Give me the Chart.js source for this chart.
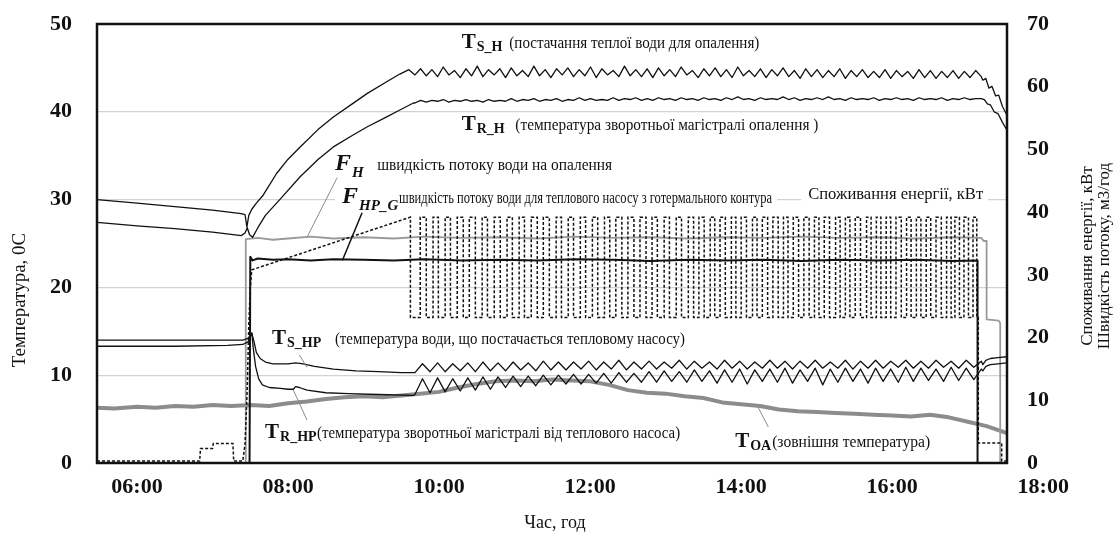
<!DOCTYPE html>
<html>
<head>
<meta charset="utf-8">
<script src="https://cdn.jsdelivr.net/npm/chart.js@4"></script>
<style>
  html, body { margin: 0; padding: 0; background: #fff; }
</style>
</head>
<body>
<canvas id="chart" width="1116" height="536"></canvas>
<script>
// time axis in hours of the day
const hourTicks = [6, 8, 10, 12, 14, 16, 18];
const timeMin = 5.47, timeMax = 17.52;

// jagged parts are logged at a fixed interval
const jagStart = 9.68, jagStep = 0.075;   // T_S_H, T_R_H
const hpStart = 9.68, hpStep = 0.1;       // T_S_HP, T_R_HP

// T_S_H - supply water for heating, °C
const tshHead = [[5.47,30.0],[6.0,29.6],[6.5,29.2],[7.0,28.8],[7.38,28.4],[7.43,28.3],[7.455,26.9],[7.48,28.2],[7.52,28.9],[7.58,29.6],[7.67,30.5],[7.85,33.0],[8.0,34.6],[8.16,36.0],[8.4,38.0],[8.6,39.4],[8.85,40.9],[9.05,42.1],[9.3,43.4],[9.48,44.3],[9.6,44.8]];
const tshJag = [44.2,
  44.9,44.1,44.8,44.0,45.1,44.2,44.7,43.9,44.9,44.1,45.2,44.0,44.8,44.2,44.9,43.9,45.0,44.1,44.7,44.0,
  45.2,44.1,44.8,43.9,44.9,44.2,45.0,44.0,44.8,44.1,45.1,43.9,44.9,44.2,44.7,44.0,45.2,44.1,44.8,44.0,
  44.9,43.9,45.0,44.1,44.8,44.0,45.1,44.2,44.7,43.9,44.9,44.1,45.0,44.0,44.8,43.9,45.1,44.1,44.7,44.0,
  44.9,43.9,44.8,44.1,45.0,44.0,44.7,43.8,44.9,44.0,44.8,43.9,44.7,44.0,44.9,43.8,44.7,44.0,44.8,43.9,
  44.6,43.9,44.8,43.8,44.7,44.0,44.6,43.8,44.8,43.9,44.7,43.8,44.6,43.9,44.7,43.8,44.6,43.9,44.7,44.0];
const tshTail = [[17.20,43.6],[17.24,43.8],[17.28,42.7],[17.32,42.9],[17.37,41.8],[17.41,41.9],[17.46,40.6],[17.52,39.6]];

// T_R_H - heating return, °C
const trhHead = [[5.47,27.4],[6.0,27.0],[6.5,26.7],[7.0,26.3],[7.38,25.9],[7.43,26.2],[7.46,26.8],[7.49,26.0],[7.53,25.7],[7.6,26.8],[7.7,28.2],[7.89,30.0],[8.16,32.6],[8.4,34.6],[8.6,36.0],[8.85,37.3],[9.05,38.3],[9.3,39.4],[9.48,40.2],[9.66,41.0]];
const trhJag = [41.0,41.3,41.1,41.3,41.2,41.4,41.1,41.3,41.2,41.4,41.2,
  41.3,41.1,41.4,41.2,41.3,41.2,41.5,41.2,41.4,41.3,
  41.5,41.2,41.4,41.3,41.5,41.2,41.4,41.3,41.6,41.3,
  41.5,41.3,41.4,41.3,41.6,41.3,41.5,41.4,41.6,41.3,
  41.5,41.3,41.6,41.4,41.5,41.3,41.6,41.4,41.5,41.3,
  41.6,41.4,41.5,41.3,41.6,41.4,41.7,41.4,41.5,41.3,
  41.6,41.4,41.5,41.4,41.7,41.4,41.6,41.3,41.5,41.4,
  41.6,41.4,41.7,41.4,41.5,41.3,41.6,41.4,41.5,41.4,
  41.6,41.3,41.5,41.4,41.6,41.4,41.5,41.3,41.6,41.4,
  41.5,41.4,41.6,41.3,41.5,41.4,41.6,41.4,41.5,41.5];
const trhTail = [[17.22,41.4],[17.26,40.9],[17.30,40.8],[17.35,40.0],[17.40,39.8],[17.46,38.8],[17.52,37.9]];

// T_S_HP - water to heat pump, °C
const tshpHead = [[5.47,14.0],[7.40,14.0],[7.47,14.2],[7.52,14.8],[7.55,13.8],[7.58,12.6],[7.63,11.9],[7.7,11.5],[7.8,11.3],[8.0,11.3],[8.1,11.4],[8.2,11.3],[8.35,11.0],[8.6,10.7],[8.9,10.5],[9.2,10.4],[9.5,10.3],[9.66,10.3]];
const tshpJag = [10.3,11.3,10.4,11.4,10.4,11.3,10.5,11.4,10.4,11.5,10.5,
  11.4,10.5,11.5,10.6,11.4,10.5,11.6,10.6,11.5,10.6,
  11.5,10.7,11.6,10.6,11.5,10.7,11.7,10.6,11.5,10.7,
  11.6,10.7,11.5,10.8,11.7,10.7,11.6,10.8,11.5,10.7,
  11.7,10.8,11.6,10.7,11.5,10.8,11.7,10.8,11.6,10.7,
  11.6,10.8,11.7,10.8,11.5,10.8,11.7,10.7,11.6,10.8,
  11.7,10.8,11.6,10.9,11.7,10.8,11.6,10.8,11.7,10.9,
  11.6,10.8,11.7,10.9,11.6];
const tshpTail = [[17.20,11.2],[17.24,11.7],[17.30,11.9],[17.40,12.0],[17.52,12.1]];

// T_R_HP - return from heat pump, °C
const trhpHead = [[5.47,13.3],[6.5,13.3],[7.2,13.4],[7.40,13.5],[7.47,13.8],[7.52,14.8],[7.54,13.0],[7.57,11.0],[7.61,9.6],[7.66,8.9],[7.75,8.6],[7.9,8.5],[8.0,8.4],[8.07,8.4],[8.1,8.7],[8.15,8.6],[8.25,8.3],[8.5,8.0],[8.8,7.9],[9.2,7.8],[9.66,7.7]];
const trhpJag = [7.8,9.6,8.0,9.7,8.1,9.6,8.2,9.7,8.3,9.8,8.4,
  9.8,8.6,9.9,8.7,9.9,8.8,10.0,8.9,10.0,9.0,
  10.1,9.0,10.1,9.1,10.2,9.1,10.3,9.2,10.2,9.2,
  10.4,9.2,10.5,9.3,10.4,9.2,10.6,9.3,10.5,9.1,
  10.6,9.2,10.7,9.0,10.6,9.3,10.7,9.2,10.8,9.1,
  10.6,9.3,10.8,8.9,10.7,9.2,10.8,9.3,10.7,9.1,
  10.8,9.3,10.7,9.2,10.9,9.3,10.8,9.4,10.7,9.3,
  10.9,9.4,10.8,9.5,10.7];
const trhpTail = [[17.20,10.5],[17.24,11.0],[17.30,11.2],[17.40,11.3],[17.52,11.4]];

// T_OA - outdoor air, °C
const toa = [[5.47,6.3],[5.7,6.2],[6.0,6.4],[6.25,6.3],[6.5,6.5],[6.75,6.4],[7.0,6.6],[7.25,6.5],[7.5,6.6],[7.75,6.5],[8.0,6.8],[8.25,7.0],[8.5,7.3],[8.75,7.5],[9.0,7.6],[9.25,7.5],[9.5,7.7],[9.75,7.9],[10.0,8.1],[10.25,8.6],[10.5,9.0],[10.75,9.3],[11.0,9.4],[11.25,9.3],[11.5,9.5],[11.75,9.4],[12.0,9.3],[12.25,8.9],[12.5,8.3],[12.75,8.0],[13.0,7.9],[13.25,7.6],[13.5,7.4],[13.75,6.9],[14.0,6.7],[14.25,6.5],[14.5,6.1],[14.75,5.9],[15.0,5.8],[15.25,5.7],[15.5,5.6],[15.75,5.5],[16.0,5.4],[16.25,5.3],[16.5,5.5],[16.75,5.2],[17.0,4.7],[17.25,4.2],[17.52,3.4]];

// F_H - heating water flow, m3/h (right axis)
const fh = [[5.47,0],[7.44,0],[7.44,35.7],[7.6,35.9],[7.8,35.6],[8.0,35.8],[8.3,36.1],[8.6,35.8],[9.0,36.0],[9.4,35.8],[9.8,36.1],[10.3,35.9],[10.8,36.0],[11.3,35.8],[11.8,36.1],[12.3,35.9],[12.8,36.0],[13.3,35.8],[13.8,36.0],[14.3,35.9],[14.8,36.1],[15.3,35.9],[15.8,36.0],[16.3,35.8],[16.8,36.0],[17.18,35.9],[17.21,35.4],[17.25,35.4],[17.25,22.9],[17.41,22.7],[17.43,22.3],[17.43,0],[17.52,0]];

// F_HP_G - geothermal loop flow, m3/h (right axis)
const fhpg = [[5.47,0],[7.49,0],[7.50,32.9],[7.53,32.3],[7.6,32.6],[7.8,32.4],[8.0,32.5],[8.3,32.3],[8.6,32.5],[9.0,32.4],[9.4,32.3],[9.8,32.5],[10.3,32.3],[10.8,32.4],[11.3,32.3],[11.8,32.5],[12.3,32.4],[12.8,32.2],[13.3,32.4],[13.8,32.3],[14.3,32.4],[14.8,32.2],[15.3,32.4],[15.8,32.3],[16.3,32.4],[16.8,32.2],[17.13,32.3],[17.13,0],[17.52,0]];

// power consumption, kW (right axis): ramp, then compressor on/off cycles
const powerHead = [[5.47,0.3],[6.83,0.3],[6.84,2.3],[7.0,2.3],[7.01,3.1],[7.27,3.1],[7.28,0.3],[7.40,0.3],[7.43,3.0],[7.46,12.0],[7.48,22.0],[7.50,28.0],[7.52,30.8],[9.62,39.2],[9.62,23.2]];
const powerOnLevel = 39.2, powerOffLevel = 23.2;
const powerOn = [9.75,9.92,10.08,10.24,10.40,10.57,10.73,10.90,11.06,11.22,11.38,11.55,11.71,11.87,12.03,12.19,12.34,12.50,12.66,12.82,12.98,13.14,13.30,13.44,13.59,13.72,13.87,14.00,14.15,14.28,14.42,14.56,14.69,14.83,14.97,15.10,15.25,15.38,15.51,15.66,15.79,15.92,16.05,16.19,16.32,16.45,16.58,16.72,16.83,16.95,17.07];
const powerOff = [9.83,9.99,10.15,10.32,10.48,10.64,10.81,10.97,11.13,11.30,11.46,11.62,11.78,11.94,12.10,12.26,12.42,12.58,12.74,12.89,13.05,13.21,13.37,13.51,13.65,13.79,13.93,14.07,14.21,14.35,14.49,14.62,14.76,14.90,15.03,15.17,15.31,15.44,15.58,15.72,15.85,15.98,16.12,16.25,16.38,16.51,16.65,16.78,16.89,17.01,17.12];
const powerTail = [[17.14,23.2],[17.14,3.2],[17.45,3.2],[17.45,0.3],[17.52,0.3]];

// text on the plot, anchored in (hour, °C)
const labels = [
  { main: 'T', sub: 'S_H', desc: '(постачання теплої води для опалення)', t: 10.30, v: 47.27, descT: 10.93, descW: 250 },
  { main: 'T', sub: 'R_H', desc: '(температура зворотньої магістралі опалення )', t: 10.30, v: 37.93, descT: 11.01, descW: 303 },
  { main: 'F', sub: 'H', desc: 'швидкість потоку води на опалення', t: 8.62, v: 33.37, descT: 9.18, descW: 235, italic: true },
  { main: 'F', sub: 'HP_G', desc: 'швидкість потоку води для теплового насосу з готермального контура', t: 8.715, v: 29.61, descT: 9.47, descW: 373, italic: true, box: true },
  { main: '', sub: '', desc: 'Споживання енергії, кВт', t: 14.887, v: 30.07, descT: 14.887, descW: 175, box: true, size: 17 },
  { main: 'T', sub: 'S_HP', desc: '(температура води, що постачається тепловому насосу)', t: 7.788, v: 13.55, descT: 8.62, descW: 350 },
  { main: 'T', sub: 'R_HP', desc: '(температура зворотньої магістралі від теплового насоса)', t: 7.695, v: 2.85, descT: 8.384, descW: 363 },
  { main: 'T', sub: 'OA', desc: '(зовнішня температура)', t: 13.92, v: 1.82, descT: 14.41, descW: 158 }
];
const leaders = [
  { from: [8.65, 32.5], to: [8.25, 25.7], color: '#8a8a8a', width: 1 },
  { from: [8.98, 28.5], to: [8.72, 23.1], color: '#111', width: 1.5 },
  { from: [8.15, 12.3], to: [8.25, 10.9], color: '#8a8a8a', width: 1 },
  { from: [8.07, 8.3], to: [8.25, 4.9], color: '#8a8a8a', width: 1 },
  { from: [14.22, 6.4], to: [14.36, 4.1], color: '#8a8a8a', width: 1 }
];

const leftTitle = 'Температура, 0С';
const rightTitles = ['Споживання енергії, кВт', 'Швидкість потоку, м3/год'];
const bottomTitle = 'Час, год';

const SERIF = '"Liberation Serif", "Times New Roman", serif';

const pts = pairs => pairs.map(([x, y]) => ({ x, y }));
const logged = (vals, start, step) => vals.map((y, i) => ({ x: start + i * step, y }));

const powerPulses = [];
powerOn.forEach((on, i) => {
    powerPulses.push({ x: on, y: powerOffLevel }, { x: on, y: powerOnLevel });
    powerPulses.push({ x: powerOff[i], y: powerOnLevel }, { x: powerOff[i], y: powerOffLevel });
});

const line = (data, color, width, axis, extra = {}) => Object.assign({
    data, borderColor: color, borderWidth: width, yAxisID: axis,
    pointRadius: 0, tension: 0, fill: false, borderJoinStyle: 'round'
}, extra);

// fixed axis box sizes; drop the label overhang padding so the plot box sits where the figure has it
const fixWidth = w => scale => { scale.width = w; scale.paddingTop = 0; scale.paddingBottom = 0; };
const fixHeight = h => scale => { scale.height = h; scale.paddingLeft = 0; scale.paddingRight = 0; };

const annotations = {
    id: 'annotations',
    afterDatasetsDraw(chart) {
        const { ctx, chartArea: a, scales } = chart;
        const px = t => scales.x.getPixelForValue(t);
        const py = v => scales.y.getPixelForValue(v);
        ctx.save();

        ctx.strokeStyle = '#111';
        ctx.lineWidth = 2.5;
        ctx.strokeRect(a.left, a.top, a.right - a.left, a.bottom - a.top);

        leaders.forEach(l => {
            ctx.beginPath();
            ctx.strokeStyle = l.color;
            ctx.lineWidth = l.width;
            ctx.moveTo(px(l.from[0]), py(l.from[1]));
            ctx.lineTo(px(l.to[0]), py(l.to[1]));
            ctx.stroke();
        });

        ctx.textAlign = 'left';
        ctx.textBaseline = 'alphabetic';
        labels.forEach(lb => {
            const x0 = px(lb.t), y0 = py(lb.v), xd = px(lb.descT);
            const size = lb.size || 16;
            ctx.font = `${size}px ${SERIF}`;
            const natural = ctx.measureText(lb.desc).width;
            if (lb.box) {
                const left = Math.min(x0, xd) - 7;
                ctx.fillStyle = '#fff';
                ctx.fillRect(left, y0 - 17, xd + lb.descW + 5 - left, 24);
            }
            ctx.fillStyle = '#111';
            if (lb.main) {
                const style = lb.italic ? 'italic bold' : 'bold';
                ctx.font = `${style} ${lb.italic ? 24 : 21}px ${SERIF}`;
                ctx.fillText(lb.main, x0, y0);
                const w = ctx.measureText(lb.main).width;
                ctx.font = `${style} ${lb.italic ? 15 : 14}px ${SERIF}`;
                ctx.fillText(lb.sub, x0 + w + 1, y0 + (lb.italic ? 7 : 3));
            }
            ctx.save();
            ctx.translate(xd, y0);
            ctx.scale(lb.descW / natural, 1);
            ctx.font = `${size}px ${SERIF}`;
            ctx.fillText(lb.desc, 0, 0);
            ctx.restore();
        });
        ctx.restore();
    },
    afterDraw(chart) {
        const { ctx } = chart;
        ctx.save();
        ctx.fillStyle = '#111';
        ctx.textBaseline = 'middle';
        ctx.textAlign = 'center';

        ctx.font = `19px ${SERIF}`;
        ctx.save();
        ctx.translate(20, 300);
        ctx.rotate(-Math.PI / 2);
        ctx.fillText(leftTitle, 0, 0);
        ctx.restore();

        ctx.font = `17px ${SERIF}`;
        rightTitles.forEach((txt, i) => {
            ctx.save();
            ctx.translate(1088 + i * 17, 256);
            ctx.rotate(-Math.PI / 2);
            ctx.fillText(txt, 0, 0);
            ctx.restore();
        });

        ctx.font = `18px ${SERIF}`;
        ctx.fillText(bottomTitle, 555, 523);
        ctx.restore();
    }
};

const tickFont = { family: SERIF, size: 22, weight: 'bold' };

new Chart(document.getElementById('chart'), {
    type: 'line',
    data: {
        datasets: [
            line(pts(fhpg), '#111', 2, 'y1'),
            line([...pts(powerHead), ...powerPulses, ...pts(powerTail)], '#111', 1.5, 'y1', { borderDash: [3, 2], borderJoinStyle: 'miter' }),
            line([...pts(tshHead), ...logged(tshJag, jagStart, jagStep), ...pts(tshTail)], '#111', 1.3, 'y'),
            line([...pts(trhHead), ...logged(trhJag, jagStart, jagStep), ...pts(trhTail)], '#111', 1.3, 'y'),
            line([...pts(tshpHead), ...logged(tshpJag, hpStart, hpStep), ...pts(tshpTail)], '#111', 1.3, 'y'),
            line([...pts(trhpHead), ...logged(trhpJag, hpStart, hpStep), ...pts(trhpTail)], '#111', 1.3, 'y'),
            line(pts(fh), '#9a9a9a', 1.8, 'y1'),
            line(pts(toa), '#8c8c8c', 4, 'y')
        ]
    },
    options: {
        responsive: false,
        animation: false,
        devicePixelRatio: 1,
        layout: { padding: { top: 24, left: 0, right: 0, bottom: 0 } },
        plugins: { legend: { display: false }, tooltip: { enabled: false } },
        scales: {
            x: {
                type: 'linear',
                min: timeMin,
                max: timeMax,
                grid: { display: false, drawTicks: false },
                border: { display: false },
                afterBuildTicks: scale => { scale.ticks = hourTicks.map(v => ({ value: v })); },
                afterFit: fixHeight(73),
                ticks: {
                    autoSkip: false,
                    maxRotation: 0,
                    padding: 11,
                    color: '#111',
                    font: tickFont,
                    callback: v => String(v).padStart(2, '0') + ':00'
                }
            },
            y: {
                position: 'left',
                min: 0,
                max: 50,
                grid: { color: '#d2d2d2', lineWidth: 1.2, drawTicks: false },
                border: { display: false },
                afterFit: fixWidth(97),
                ticks: { stepSize: 10, padding: 25, color: '#111', font: tickFont }
            },
            y1: {
                position: 'right',
                min: 0,
                max: 70,
                grid: { display: false, drawTicks: false },
                border: { display: false },
                afterFit: fixWidth(109),
                ticks: { stepSize: 10, padding: 20, color: '#111', font: tickFont }
            }
        }
    },
    plugins: [annotations]
});
</script>
</body>
</html>
